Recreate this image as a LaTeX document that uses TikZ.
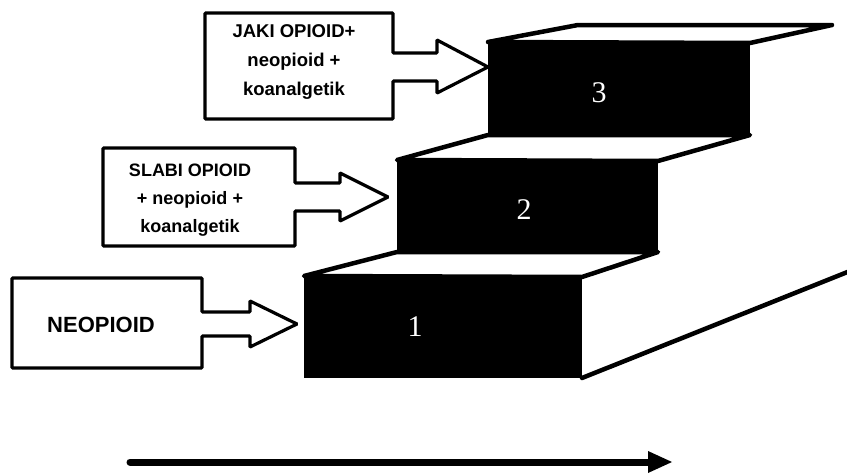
\documentclass[tikz,border=0pt]{standalone}
\usepackage{fontspec}
\setmainfont{Liberation Sans}
\newfontfamily\digitfont{Liberation Serif}
\begin{document}
\begin{tikzpicture}[x=1pt,y=-1pt,
  edge/.style={line width=4.5pt,line join=round,line cap=round,fill=white},
  callout/.style={line width=3.2pt,line join=miter,rounded corners=0.8pt,fill=white},
  blackface/.style={fill=black,draw=none,inner sep=0pt,outer sep=0pt},
  digit/.style={text=white,font=\digitfont\fontsize{30}{30}\selectfont},
  boxtext/.style={align=center,inner sep=0pt,font=\bfseries\fontsize{18.5}{29}\selectfont},
  bigarrow/.style={line width=7pt,line cap=round}]
\useasboundingbox (0,0) rectangle (847,474);

% top faces (white with thick edges)
\draw[edge] (304,276) -- (397,252) -- (658,252) -- (582,277) -- cycle;
\draw[edge] (397,160) -- (488,135) -- (750,135) -- (658,161) -- cycle;
\draw[edge] (488,42) -- (578,25) -- (832,25) -- (750,43) -- cycle;

% right side line
\coordinate (sideEnd) at (850,271);
\coordinate (s1br) at (582,378);
\draw[edge] (s1br) -- (sideEnd);

% black front faces
\node[blackface,minimum width=278pt,minimum height=102pt] (s1) at (443,327) {};
\node[blackface,minimum width=261pt,minimum height=92pt] (s2) at (527.5,206) {};
\node[blackface,minimum width=262pt,minimum height=94pt] (s3) at (619,89) {};
\node[digit] (n1) at (415,327) {1};
\node[digit] (n2) at (524,210) {2};
\node[digit] (n3) at (599,93) {3};

% callout boxes with block arrows
\draw[callout] (205,13) -- (393,13) -- (393,53) -- (437,53) -- (437,40) -- (488,67)
  -- (437,93) -- (437,81) -- (393,81) -- (393,119) -- (205,119) -- cycle;
\node[boxtext] (t3) at (294,62) {JAKI OPIOID+\\neopioid +\\koanalgetik};

\draw[callout] (103,148) -- (295,148) -- (295,183) -- (340,183) -- (340,173) -- (388,197)
  -- (340,221) -- (340,211) -- (295,211) -- (295,246) -- (103,246) -- cycle;
\node[boxtext,font=\bfseries\fontsize{18}{28}\selectfont] (t2) at (190,200) {SLABI OPIOID\\+ neopioid +\\koanalgetik};

\draw[callout] (12,278) -- (202,278) -- (202,312) -- (250,312) -- (250,301) -- (297,324)
  -- (250,347) -- (250,336) -- (202,336) -- (202,368) -- (12,368) -- cycle;
\node[boxtext,font=\bfseries\fontsize{22}{22}\selectfont] (t1) at (101,325) {NEOPIOID};

% bottom arrow
\coordinate (aStart) at (130,462);
\coordinate (aEnd) at (648,462);
\coordinate (aTip) at (672,462);
\draw[bigarrow] (aStart) -- (aEnd);
\fill (648,451) -- (aTip) -- (648,473) -- cycle;
\end{tikzpicture}
\end{document}
